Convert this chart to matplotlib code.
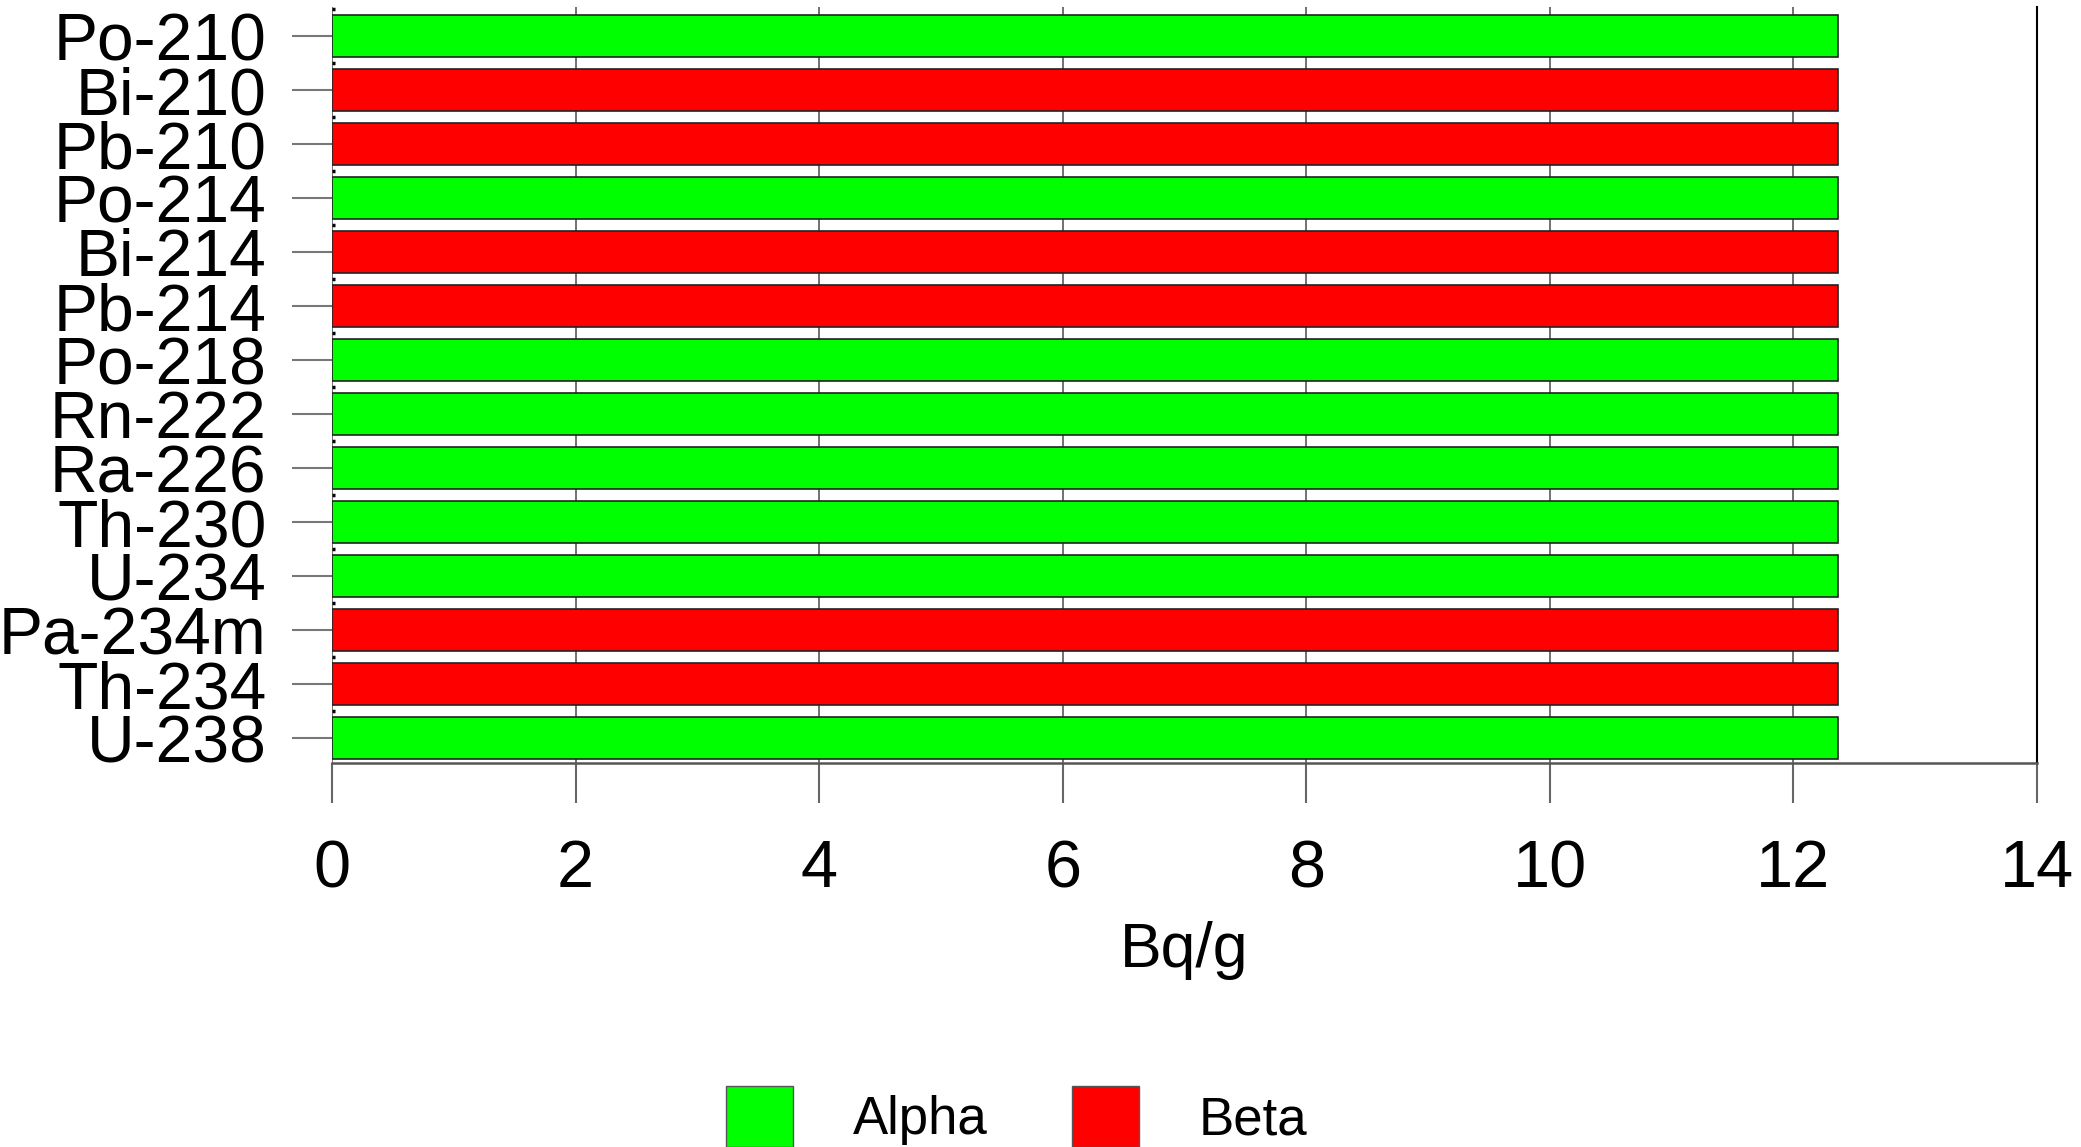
import matplotlib
matplotlib.use("Agg")
import matplotlib.pyplot as plt
from matplotlib.patches import Patch

isotopes = ["U-238", "Th-234", "Pa-234m", "U-234", "Th-230", "Ra-226", "Rn-222",
            "Po-218", "Pb-214", "Bi-214", "Po-214", "Pb-210", "Bi-210", "Po-210"]
activity = [12.37, 12.37, 12.37, 12.37, 12.37, 12.37, 12.37,
            12.37, 12.37, 12.37, 12.37, 12.37, 12.37, 12.37]
decay = ["Alpha", "Beta", "Beta", "Alpha", "Alpha", "Alpha", "Alpha",
         "Alpha", "Beta", "Beta", "Alpha", "Beta", "Beta", "Alpha"]
xticks = [0, 2, 4, 6, 8, 10, 12, 14]

colors = {"Alpha": "#00ff00", "Beta": "#ff0000"}

plt.rcParams["font.family"] = ["Liberation Sans", "DejaVu Sans"]

W, H = 2081, 1147
fig = plt.figure(figsize=(W / 100, H / 100), dpi=100)
ax = fig.add_axes([332 / W, (H - 763) / H, (2037 - 332) / W, (763 - 7) / H])

ypos = list(range(len(isotopes)))
ax.barh(ypos, activity, height=0.78, color=[colors[d] for d in decay],
        edgecolor="#222222", linewidth=1.2, zorder=3)

ax.set_xlim(0, 14)
ax.set_ylim(-0.46, 13.54)
ax.set_xticks(xticks)
ax.set_yticks(ypos)
ax.set_yticklabels(isotopes, fontsize=47.5)
ax.set_xticklabels([str(t) for t in xticks], fontsize=48)
ax.set_yticks([y + 0.5 for y in ypos[:-1]] + [13.5], minor=True)

ax.tick_params(axis="y", which="major", length=29, width=1.5, color="#777777", pad=18)
ax.tick_params(axis="y", which="minor", length=2, width=2.5, color="black", direction="in")
ax.tick_params(axis="x", length=29, width=1.5, color="#666666", pad=26)

ax.grid(axis="x", color="#666666", linewidth=1.3, zorder=0)
ax.set_axisbelow(True)

ax.spines["top"].set_visible(False)
ax.spines["left"].set_visible(False)
ax.spines["right"].set_color("black")
ax.spines["right"].set_linewidth(1.5)
ax.spines["bottom"].set_color("#555555")
ax.spines["bottom"].set_linewidth(1.8)

ax.set_xlabel("Bq/g", fontsize=45, labelpad=14)

handles = [Patch(facecolor=colors["Alpha"], edgecolor="#555555", label="Alpha"),
           Patch(facecolor=colors["Beta"], edgecolor="#555555", label="Beta")]
fig.legend(handles=handles, loc="upper left", bbox_to_anchor=(726 / W, (H - 1086) / H),
           ncol=2, frameon=False, fontsize=38, borderpad=0, borderaxespad=0,
           handlelength=1.27, handleheight=1.4, handletextpad=1.14, columnspacing=1.59)

fig.savefig("out.png", dpi=100)
